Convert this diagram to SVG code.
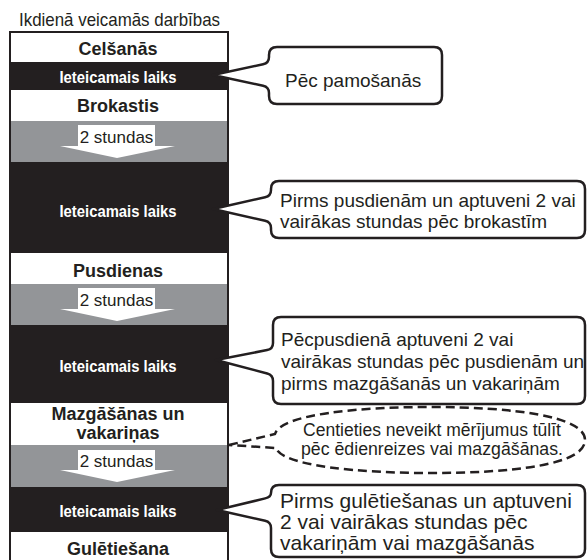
<svg xmlns="http://www.w3.org/2000/svg" width="587" height="560" viewBox="0 0 587 560">
<style>
text{font-family:"Liberation Sans",Arial,sans-serif;fill:#231f20}
.lbl{font-weight:bold;font-size:18px;text-anchor:middle}
.rec{font-weight:bold;font-size:16px;text-anchor:middle;fill:#fff}
.hrs{font-size:17px;text-anchor:middle}
.bub{font-size:19px}
.blk{fill:#231f20}
.gry{fill:#939598}
.arr{fill:#fff}
.bubble{fill:#fff;stroke:#231f20;stroke-width:2.5;stroke-linejoin:round}
.dash{fill:#fff;stroke:#231f20;stroke-width:2.5;stroke-dasharray:9 5}
</style>
<rect width="587" height="560" fill="#fff"/>
<text x="19" y="26" font-size="19" textLength="201" lengthAdjust="spacingAndGlyphs">Ikdienā veicamās darbības</text>
<g id="timeline">
  <rect x="10" y="32" width="218" height="540" fill="#fff"/>
  <g id="celsanas"><text class="lbl" x="118" y="55">Celšanās</text></g>
  <g id="rec1"><rect class="blk" x="10" y="62" width="218" height="28"/><text class="rec" x="118" y="83" textLength="117" lengthAdjust="spacingAndGlyphs">Ieteicamais laiks</text></g>
  <g id="brokastis"><text class="lbl" x="118" y="112">Brokastis</text></g>
  <g id="gap1"><rect class="gry" x="10" y="121" width="218" height="41"/><polygon class="arr" points="78,125 155,125 155,146 175,146 117,158 60,146 78,146"/><text class="hrs" x="116.5" y="143">2 stundas</text></g>
  <g id="rec2"><rect class="blk" x="10" y="162" width="218" height="91"/><text class="rec" x="118" y="217" textLength="117" lengthAdjust="spacingAndGlyphs">Ieteicamais laiks</text></g>
  <g id="pusdienas"><text class="lbl" x="118" y="277">Pusdienas</text></g>
  <g id="gap2"><rect class="gry" x="10" y="284" width="218" height="41"/><polygon class="arr" points="78,288 155,288 155,309 175,309 117,321 60,309 78,309"/><text class="hrs" x="116.5" y="306">2 stundas</text></g>
  <g id="rec3"><rect class="blk" x="10" y="325" width="218" height="78"/><text class="rec" x="118" y="372" textLength="117" lengthAdjust="spacingAndGlyphs">Ieteicamais laiks</text></g>
  <g id="vakarinas"><text class="lbl" x="118" y="420">Mazgāšānas un</text><text class="lbl" x="118" y="439">vakariņas</text></g>
  <g id="gap3"><rect class="gry" x="10" y="445" width="218" height="42"/><polygon class="arr" points="78,450 155,450 155,470 175,470 117,482 60,470 78,470"/><text class="hrs" x="116.5" y="467">2 stundas</text></g>
  <g id="rec4"><rect class="blk" x="10" y="487" width="218" height="45"/><text class="rec" x="118" y="517" textLength="117" lengthAdjust="spacingAndGlyphs">Ieteicamais laiks</text></g>
  <g id="guletiesana"><text class="lbl" x="118" y="555">Gulētiešana</text></g>
  <rect x="10" y="32" width="218" height="540" fill="none" stroke="#231f20" stroke-width="2"/>
</g>
<g id="connectors"></g>
<g id="bubble1">
  <path class="bubble" d="M277,47 H434 Q442,47 442,55 V96 Q442,104 434,104 H277 Q269,104 269,96 V93 Q269,87 263.1,85.7 L213,75 L263.1,64.3 Q269,63 269,57 V55 Q269,47 277,47 Z"/>
  <text class="bub" x="285" y="87">Pēc pamošanās</text>
</g>
<g id="bubble2">
  <path class="bubble" d="M279,181 H577 Q585,181 585,189 V230 Q585,238 577,238 H279 Q271,238 271,230 V228 Q271,222 265.1,220.7 L213,209 L265.1,197.3 Q271,196 271,190 V189 Q271,181 279,181 Z"/>
  <text class="bub" x="280" y="207">Pirms pusdienām un aptuveni 2 vai</text>
  <text class="bub" x="280" y="228">vairākas stundas pēc brokastīm</text>
</g>
<g id="bubble3">
  <path class="bubble" d="M281,317 H577 Q585,317 585,325 V396 Q585,404 577,404 H281 Q273,404 273,396 V381 Q273,375 267.2,373.5 L216,360 L267.1,350.1 Q273,349 273,343 V325 Q273,317 281,317 Z"/>
  <text class="bub" x="281" y="346">Pēcpusdienā aptuveni 2 vai</text>
  <text class="bub" x="281" y="368">vairākas stundas pēc pusdienām un</text>
  <text class="bub" x="281" y="390">pirms mazgāšanās un vakariņām</text>
</g>
<g id="note">
  <path class="dash" d="M229,445 L275,434 C281,414 360,407 430,407 C512,407 585,416 585,440 C585,465 512,473 430,473 C360,473 282,466 276,448 Z"/>
  <text x="432" y="436" font-size="17.5" text-anchor="middle" textLength="258" lengthAdjust="spacingAndGlyphs">Centieties neveikt mērījumus tūlīt</text>
  <text x="432" y="455" font-size="17.5" text-anchor="middle" textLength="262" lengthAdjust="spacingAndGlyphs">pēc ēdienreizes vai mazgāšānas.</text>
</g>
<g id="bubble4">
  <path class="bubble" d="M279,485 H577 Q585,485 585,493 V549 Q585,557 577,557 H279 Q271,557 271,549 V528 Q271,522 265.1,520.7 L217,510 L265.2,498.4 Q271,497 271,493 Q271,485 279,485 Z"/>
  <text x="280" y="508" font-size="21">Pirms gulētiešanas un aptuveni</text>
  <text x="280" y="529" font-size="21">2 vai vairākas stundas pēc</text>
  <text x="280" y="550" font-size="21">vakariņām vai mazgāšanās</text>
</g>
</svg>
